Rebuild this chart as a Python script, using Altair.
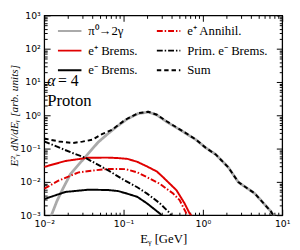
import altair as alt
import pandas as pd

# ---------------- data ----------------
names = ["π⁰→2γ", "e⁺ Brems.", "e⁻ Brems.", "e⁺ Annihil.", "Prim. e⁻ Brems.", "Sum"]

E_pi0 = [0.0121, 0.0145, 0.0168, 0.0214, 0.0327, 0.0478, 0.0647, 0.0843, 0.112, 0.152,
         0.205, 0.263, 0.349, 0.561, 0.82, 1.09, 1.45, 2.1, 2.8, 4.5, 7.2, 7.9]
V_pi0 = [0.0009, 0.0027, 0.0056, 0.0172, 0.055, 0.155, 0.29, 0.48, 0.78, 1.12,
         1.25, 1.02, 0.64, 0.323, 0.184, 0.105, 0.0667, 0.027, 0.0098, 0.0045, 0.0013, 0.0009]

E_epb = [0.01, 0.0185, 0.036, 0.0634, 0.0843, 0.112, 0.149, 0.198, 0.263, 0.318, 0.465,
         0.588, 0.678, 0.76]
V_epb = [0.0282, 0.0424, 0.0532, 0.0535, 0.052, 0.049, 0.040, 0.029, 0.0205, 0.0135, 0.0056,
         0.00225, 0.00115, 0.0008]

E_ann = [0.01, 0.0153, 0.0271, 0.0577, 0.0843, 0.107, 0.149, 0.198, 0.288, 0.422, 0.509,
         0.617, 0.65]
V_ann = [0.00622, 0.011, 0.0193, 0.0241, 0.0245, 0.0241, 0.0193, 0.01375, 0.0087, 0.00445,
         0.00282, 0.00115, 0.0008]

E_prim = [0.01, 0.0223, 0.0327, 0.0634, 0.1028, 0.149, 0.198, 0.288, 0.384, 0.41]
V_prim = [0.164, 0.0748, 0.0532, 0.0225, 0.0111, 0.0069, 0.00444, 0.00225, 0.00115, 0.0009]

E_emb = [0.01, 0.0185, 0.036, 0.0634, 0.0843, 0.103, 0.149, 0.198, 0.288, 0.31]
V_emb = [0.00305, 0.00498, 0.00582, 0.0057, 0.00532, 0.00468, 0.00355, 0.00225, 0.00111, 0.0009]

E_sum = [0.01, 0.0153, 0.0228, 0.0303, 0.0402, 0.0534, 0.071, 0.104, 0.152, 0.205, 0.263,
         0.349, 0.561, 0.82, 1.09, 1.45, 2.1, 2.8, 4.5, 7.2, 7.9]
V_sum = [0.20, 0.164, 0.147, 0.162, 0.184, 0.27, 0.362, 0.72, 1.15, 1.28, 1.04,
         0.66, 0.33, 0.186, 0.105, 0.0667, 0.027, 0.0098, 0.0045, 0.0013, 0.0009]

x_major = [0.01, 0.1, 1, 10]
x_labels = ["10⁻²", "10⁻¹", "10⁰", "10¹"]
y_major = [0.001, 0.01, 0.1, 1, 10, 100, 1000]
y_labels = ["10⁻³", "10⁻²", "10⁻¹", "10⁰", "10¹", "10²", "10³"]
x_minor = [k * 10.0 ** n for n in (-2, -1, 0) for k in range(2, 10)]
y_minor = [k * 10.0 ** n for n in (-3, -2, -1, 0, 1, 2) for k in range(2, 10)]

x_title = "Eᵧ [GeV]"
y_title = "E²ᵧ dN/dEᵧ [arb. units]"
txt_alpha = ["α"]
txt_eq = ["= 4"]
txt_proton = ["Proton"]

# ---------------- styles ----------------
colors = ["#aaaaaa", "#e00000", "#000000", "#e00000", "#000000", "#000000"]
dashes = [[1, 0], [1, 0], [1, 0], [6, 2, 1.5, 2], [6, 2, 1.5, 2], [4.5, 3]]
draw = [("π⁰→2γ", 2.8), ("e⁺ Brems.", 2.0), ("e⁻ Brems.", 2.0),
        ("e⁺ Annihil.", 2.0), ("Prim. e⁻ Brems.", 2.0), ("Sum", 2.0)]

rows = []
for nm, E, V in [("π⁰→2γ", E_pi0, V_pi0), ("e⁺ Annihil.", E_ann, V_ann),
                 ("e⁺ Brems.", E_epb, V_epb), ("Prim. e⁻ Brems.", E_prim, V_prim),
                 ("e⁻ Brems.", E_emb, V_emb), ("Sum", E_sum, V_sum)]:
    for e, v in zip(E, V):
        rows.append({"series": nm, "E": e, "val": v})
df = pd.DataFrame(rows)

xscale = alt.Scale(type="log", domain=[0.01, 10], nice=False)
yscale = alt.Scale(type="log", domain=[0.001, 1000], nice=False)


def label_expr(vals, labs):
    expr = f"'{labs[-1]}'"
    for v, l in reversed(list(zip(vals[:-1], labs[:-1]))):
        expr = f"datum.value < {v * 3.16} ? '{l}' : " + expr
    return expr


leg = alt.Legend(orient="none", legendX=13, legendY=3, columns=2, title=None,
                 symbolType="stroke", symbolSize=576, symbolStrokeWidth=2,
                 labelFont="Liberation Serif", labelFontSize=13, labelOffset=6,
                 columnPadding=15, rowPadding=alt.ExprRef(expr="-8"), padding=0)
cscale = alt.Scale(domain=names, range=colors)
dscale = alt.Scale(domain=names, range=dashes)

layers = []
for nm, w in draw:
    layers.append(
        alt.Chart(df).transform_filter(alt.datum.series == nm)
        .mark_line(strokeWidth=w, clip=True)
        .encode(
            x=alt.X("E:Q", scale=xscale, axis=None),
            y=alt.Y("val:Q", scale=yscale, axis=None),
            color=alt.Color("series:N", scale=cscale, legend=leg),
            strokeDash=alt.StrokeDash("series:N", scale=dscale, legend=leg),
        )
    )


def axis_layer(xa, ya):
    return alt.Chart(df).mark_point(opacity=0).encode(
        x=alt.X("E:Q", scale=xscale, axis=xa),
        y=alt.Y("val:Q", scale=yscale, axis=ya),
    )


common = dict(grid=False, domain=False)
# labelled axes (no ticks)
layers.append(axis_layer(
    alt.Axis(orient="bottom", values=x_major, labelExpr=label_expr(x_major, x_labels),
             ticks=False, tickSize=0, labelPadding=4, labelFlush=False,
             labelFont="DejaVu Sans", labelFontSize=9.5, labelColor="black",
             title=x_title, titleFont="Liberation Serif", titleFontSize=13,
             titleFontWeight="normal", titlePadding=4, titleColor="black", **common),
    alt.Axis(orient="left", values=y_major, labelExpr=label_expr(y_major, y_labels),
             ticks=False, tickSize=0, labelPadding=4, labelFlush=False,
             labelFont="DejaVu Sans", labelFontSize=9.5, labelColor="black",
             title=y_title, titleFont="Liberation Serif", titleFontSize=11.5,
             titleFontStyle="italic", titleFontWeight="normal", titlePadding=0,
             titleColor="black", **common),
))


def tick_axis(orient, vals, size):
    return alt.Axis(orient=orient, values=vals, labels=False, title=None,
                    tickSize=alt.ExprRef(expr=str(-size)), tickColor="black",
                    tickWidth=1, **common)


for xo, yo in [("bottom", "left"), ("top", "right")]:
    layers.append(axis_layer(tick_axis(xo, x_major, 6), tick_axis(yo, y_major, 6)))
    layers.append(axis_layer(tick_axis(xo, x_minor, 3), tick_axis(yo, y_minor, 3)))

layers.append(alt.Chart(pd.DataFrame({"t": txt_alpha})).mark_text(
    align="left", baseline="alphabetic", font="Liberation Serif", fontSize=16,
    fontStyle="italic", color="black").encode(x=alt.value(3), y=alt.value(72), text="t:N"))
layers.append(alt.Chart(pd.DataFrame({"t": txt_eq})).mark_text(
    align="left", baseline="alphabetic", font="Liberation Serif", fontSize=16,
    color="black").encode(x=alt.value(14), y=alt.value(72), text="t:N"))
layers.append(alt.Chart(pd.DataFrame({"t": txt_proton})).mark_text(
    align="left", baseline="alphabetic", font="Liberation Serif", fontSize=17,
    color="black").encode(x=alt.value(3), y=alt.value(93), text="t:N"))

chart = (
    alt.layer(*layers)
    .resolve_axis(x="independent", y="independent")
    .properties(width=243, height=204, autosize=alt.AutoSizeParams(type="none"),
                padding={"left": 37, "top": 5, "right": 10, "bottom": 32})
    .configure_view(stroke="black", strokeWidth=1.3)
)

chart.save("out.html", embed_options={"renderer": "svg", "actions": False})
